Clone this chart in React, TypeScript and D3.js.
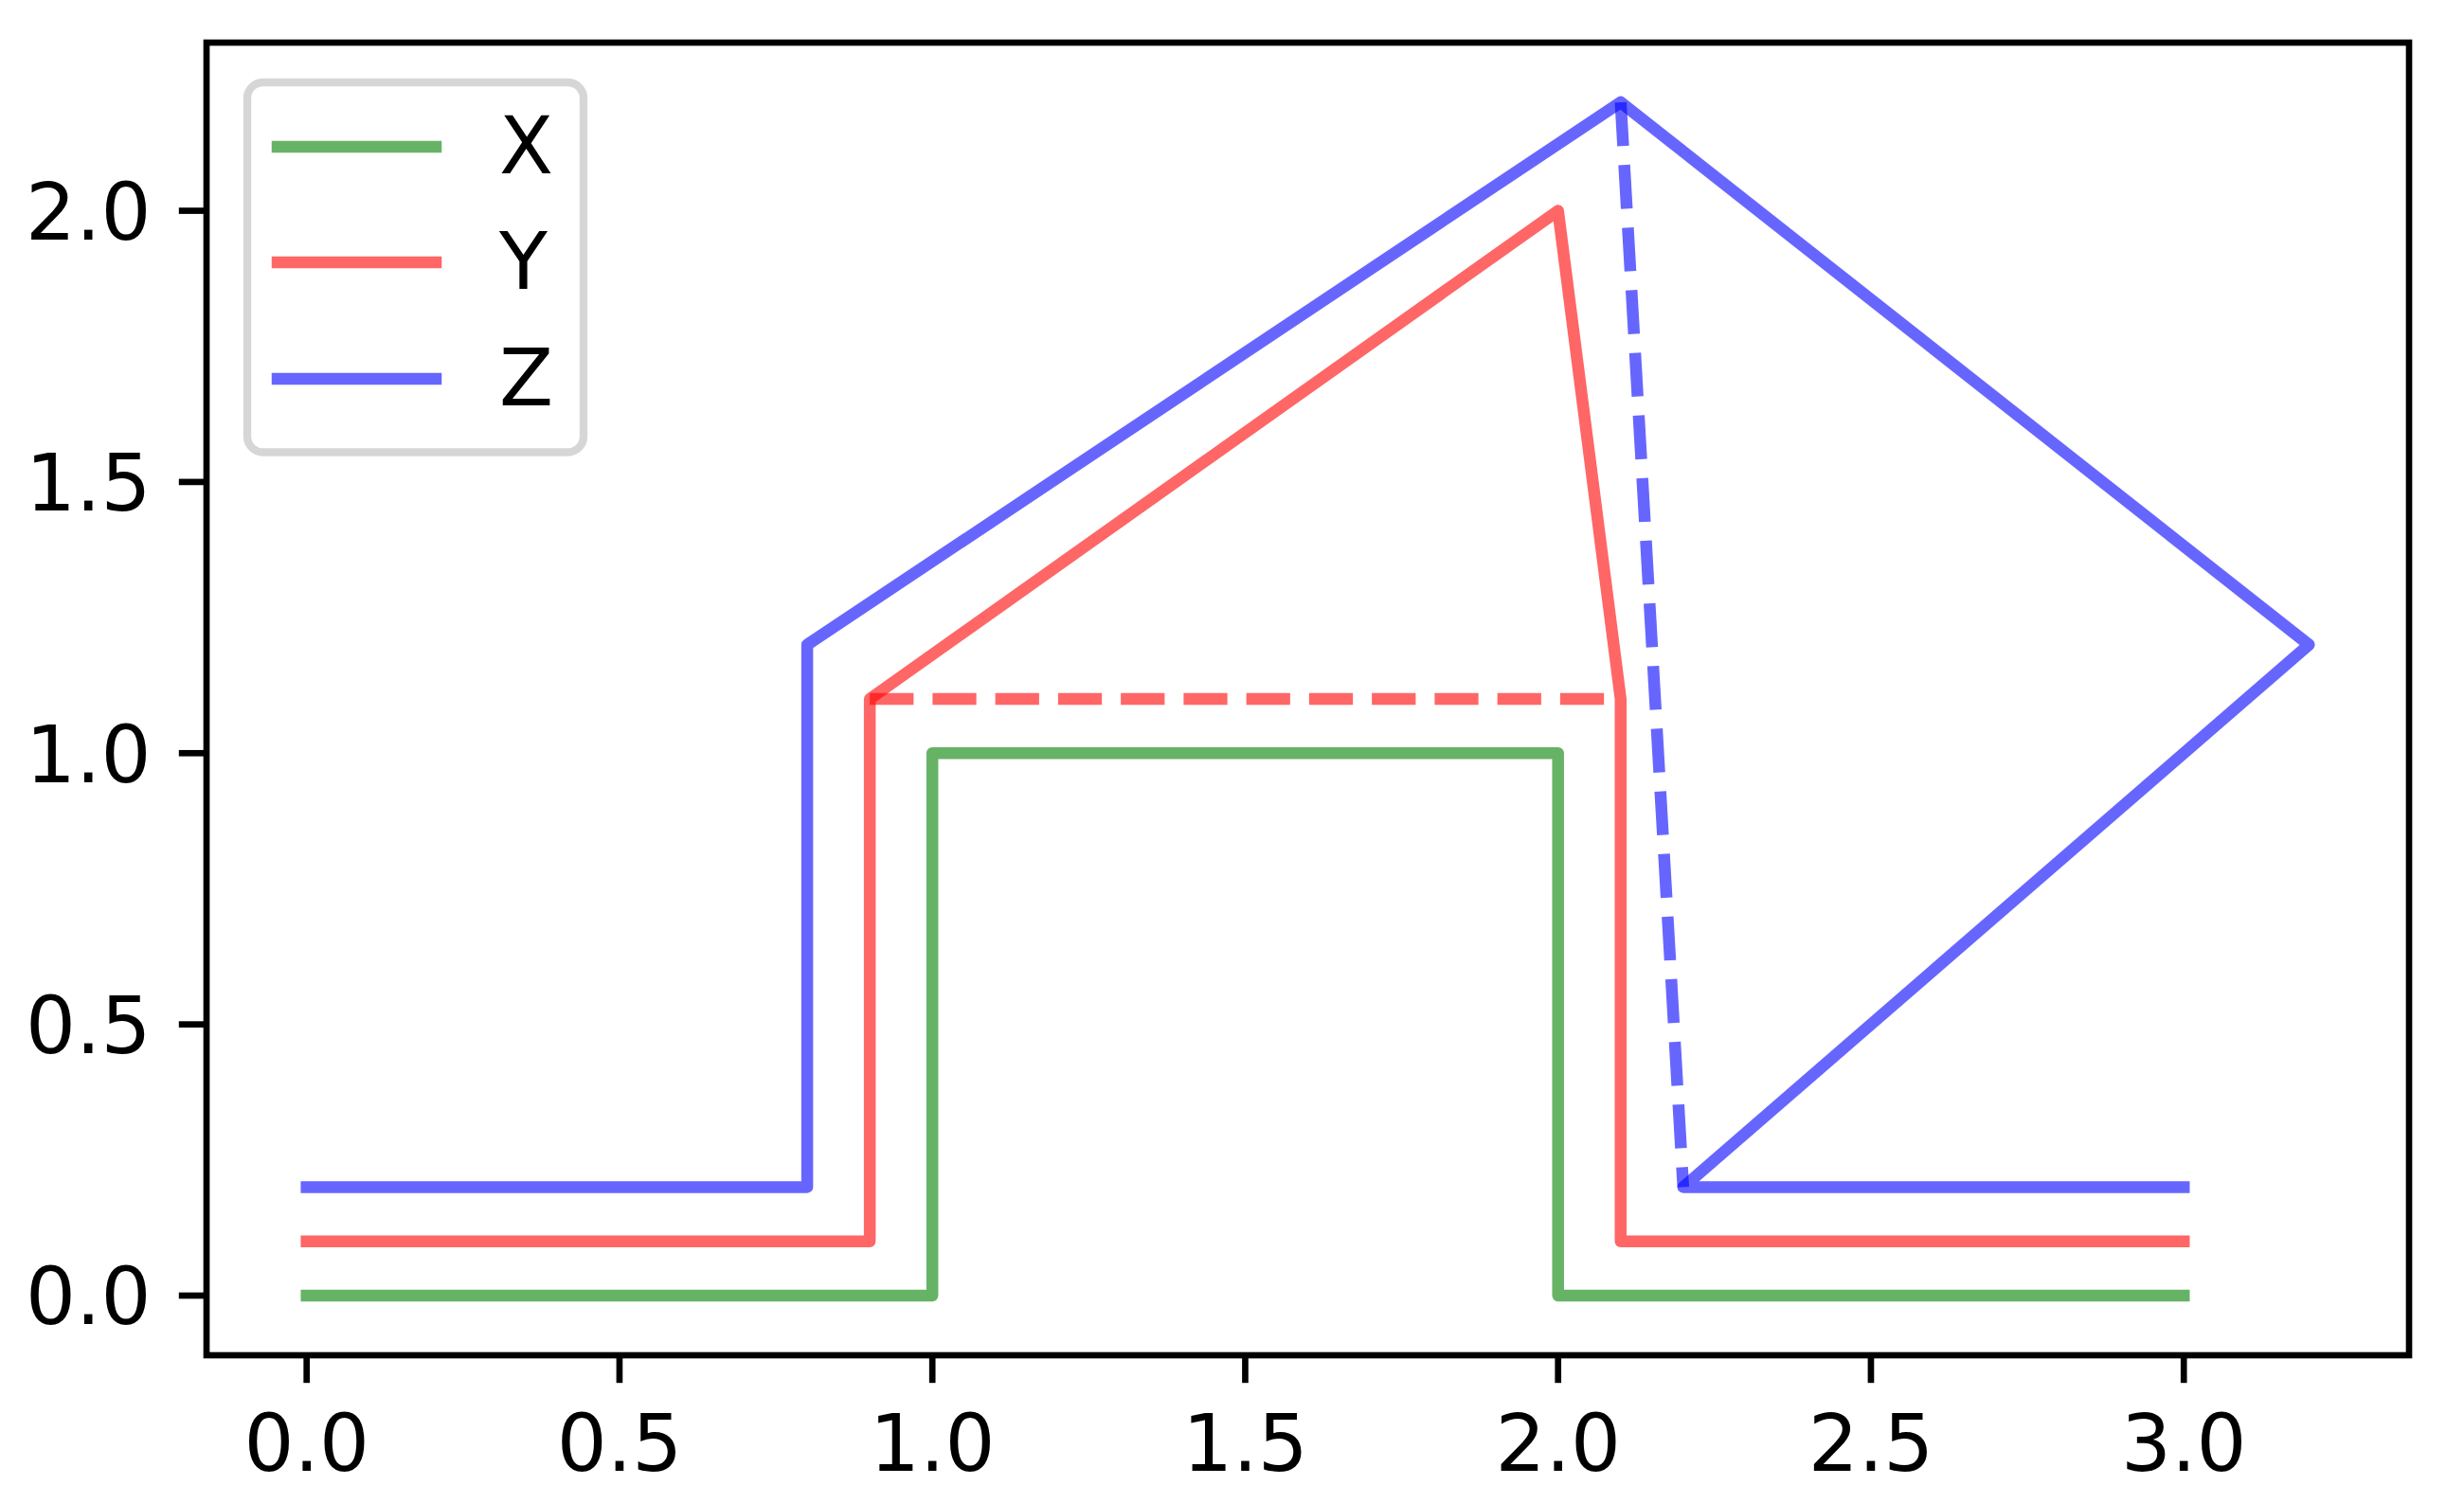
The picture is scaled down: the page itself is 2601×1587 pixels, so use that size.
import React from "react";
import * as d3 from "d3";

const seriesNames = ["X", "Y", "Z"];
const seriesColors = ["#008000", "#ff0000", "#0000ff"];

const xValsX = [0, 1, 1, 2, 2, 3];
const yValsX = [0, 0, 1, 1, 0, 0];

const xValsY = [0, 0.9, 0.9, 2.0, 2.1, 2.1, 3];
const yValsY = [0.1, 0.1, 1.1, 2.0, 1.1, 0.1, 0.1];
const xDashY = [0.9, 2.1];
const yDashY = [1.1, 1.1];

const xValsZ = [0, 0.8, 0.8, 2.1, 3.2, 2.2, 3];
const yValsZ = [0.2, 0.2, 1.2, 2.2, 1.2, 0.2, 0.2];
const xDashZ = [2.1, 2.2];
const yDashZ = [2.2, 0.2];

const xTicks = [0, 0.5, 1.0, 1.5, 2.0, 2.5, 3.0];
const yTicks = [0, 0.5, 1.0, 1.5, 2.0];

const W = 2601;
const H = 1587;
const L = 218, R = 2543, T = 45, B = 1431;
const FS = 83.3;
const LW = 12.5;
const SW = 6.67;
const TL = 29.2;

export default function App() {
  const x = d3.scaleLinear().domain([-0.16, 3.36]).range([L, R]);
  const y = d3.scaleLinear().domain([-0.11, 2.31]).range([B, T]);
  const line = d3.line<[number, number]>().x(d => x(d[0])).y(d => y(d[1]));
  const pts = (xs: number[], ys: number[]) => xs.map((v, i) => [v, ys[i]] as [number, number]);

  const solids = [
    { d: line(pts(xValsX, yValsX)), c: seriesColors[0] },
    { d: line(pts(xValsY, yValsY)), c: seriesColors[1] },
    { d: line(pts(xDashY, yDashY)), c: seriesColors[1], dash: true },
    { d: line(pts(xValsZ, yValsZ)), c: seriesColors[2] },
    { d: line(pts(xDashZ, yDashZ)), c: seriesColors[2], dash: true },
  ];

  const font = "DejaVu Sans";
  const legendRows = [155, 277, 400];

  return (
    <svg width={W} height={H} style={{ position: "absolute", left: 0, top: 0, background: "#fff" }}
      fontFamily={font}>
      <rect x={0} y={0} width={W} height={H} fill="#fff" />
      <defs>
        <clipPath id="plotclip">
          <rect x={L} y={T} width={R - L} height={B - T} />
        </clipPath>
      </defs>
      <g clipPath="url(#plotclip)">
        {solids.map((s, i) => (
          <path key={i} d={s.d || ""} fill="none" stroke={s.c} strokeOpacity={0.6}
            strokeWidth={LW} strokeLinejoin="round"
            strokeLinecap={s.dash ? "butt" : "square"}
            strokeDasharray={s.dash ? "46.25 20" : undefined} />
        ))}
      </g>
      <rect x={L} y={T} width={R - L} height={B - T} fill="none" stroke="#000" strokeWidth={SW} />
      {xTicks.map(t => (
        <g key={"x" + t}>
          <line x1={x(t)} x2={x(t)} y1={B} y2={B + TL} stroke="#000" strokeWidth={SW} />
          <text x={x(t)} y={1553} fontSize={FS} textAnchor="middle" fill="#000">{t.toFixed(1)}</text>
        </g>
      ))}
      {yTicks.map(t => (
        <g key={"y" + t}>
          <line x1={L} x2={L - TL} y1={y(t)} y2={y(t)} stroke="#000" strokeWidth={SW} />
          <text x={L - 2 * TL} y={y(t) + 30.4} fontSize={FS} textAnchor="end" fill="#000">{t.toFixed(1)}</text>
        </g>
      ))}
      <rect x={261} y={87} width={355} height={390.5} rx={16.7} ry={16.7}
        fill="#fff" fillOpacity={0.8} stroke="#cccccc" strokeOpacity={0.8} strokeWidth={8.33} />
      {seriesNames.map((n, i) => (
        <g key={n}>
          <line x1={293} x2={460} y1={legendRows[i]} y2={legendRows[i]} stroke={seriesColors[i]}
            strokeOpacity={0.6} strokeWidth={LW} strokeLinecap="square" />
          <text x={527} y={legendRows[i] + 28} fontSize={FS} fill="#000">{n}</text>
        </g>
      ))}
    </svg>
  );
}
